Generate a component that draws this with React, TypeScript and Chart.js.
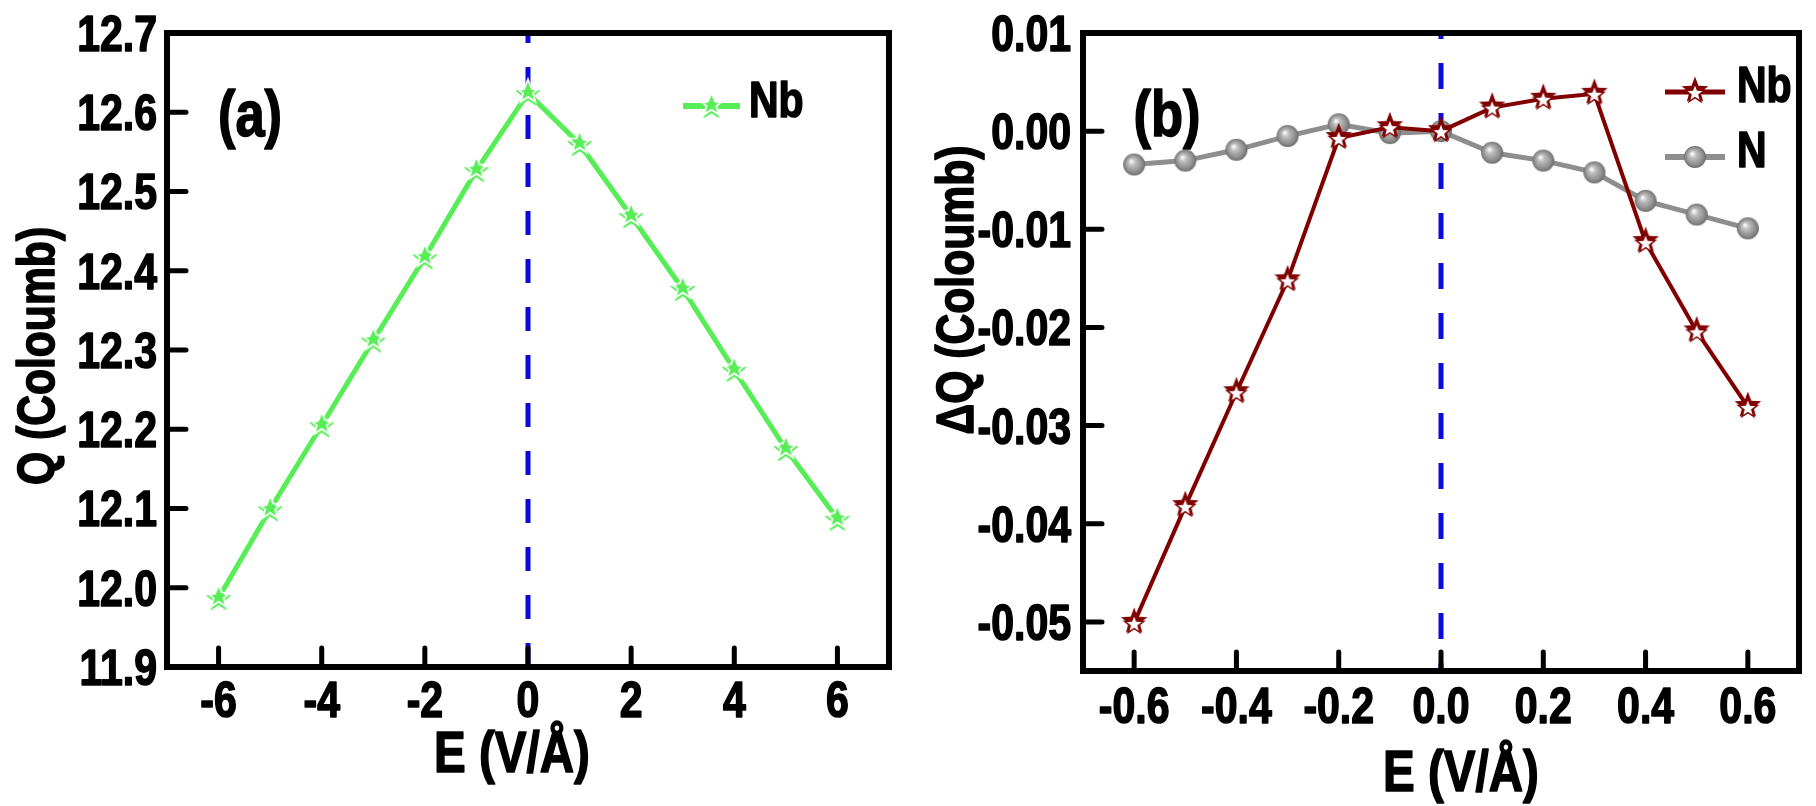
import React, { useEffect, useRef } from 'react';
import { Chart, registerables } from 'chart.js';

Chart.register(...registerables);

// ---------- data ----------
const FIELD_A = [-6, -5, -4, -3, -2, -1, 0, 1, 2, 3, 4, 5, 6];
const Q_NB = [11.987, 12.099, 12.205, 12.312, 12.417, 12.527, 12.624, 12.56, 12.469, 12.377, 12.275, 12.175, 12.087];

const FIELD_B = [-0.6, -0.5, -0.4, -0.3, -0.2, -0.1, 0, 0.1, 0.2, 0.3, 0.4, 0.5, 0.6];
const DQ_NB = [-0.0501, -0.0382, -0.0266, -0.0152, -0.0007, 0.0004, 0.0, 0.0024, 0.0033, 0.0038, -0.0113, -0.0204, -0.0281];
const DQ_N = [-0.0034, -0.003, -0.0019, -0.0005, 0.0007, -0.0002, 0.0, -0.0022, -0.003, -0.0042, -0.0071, -0.0085, -0.0099];

const X_TICKS_A = [-6, -4, -2, 0, 2, 4, 6];
const Y_TICKS_A = [11.9, 12.0, 12.1, 12.2, 12.3, 12.4, 12.5, 12.6, 12.7];
const X_TICKS_B = [-0.6, -0.4, -0.2, 0, 0.2, 0.4, 0.6];
const Y_TICKS_B = [-0.05, -0.04, -0.03, -0.02, -0.01, 0, 0.01];

const ZERO_FIELD = 0;

// ---------- styles ----------
const FONT = "'Liberation Sans', Arial, sans-serif";
const NARROW = 0.82; // horizontal compression -> Arial Narrow look
const GREEN = '#55ee55';
const DARKRED = '#800000';
const GRAY = '#8e8e8e';
const BLUE = '#0a0ae0';

function starPath(g: CanvasRenderingContext2D, cx: number, cy: number, R: number, r: number) {
  g.beginPath();
  for (let i = 0; i < 10; i++) {
    const rad = i % 2 === 0 ? R : r;
    const a = -Math.PI / 2 + (i * Math.PI) / 5;
    const x = cx + rad * Math.cos(a);
    const y = cy + rad * Math.sin(a);
    if (i === 0) g.moveTo(x, y);
    else g.lineTo(x, y);
  }
  g.closePath();
}

function makeStarLight(color: string) {
  const c = document.createElement('canvas');
  c.width = 34;
  c.height = 34;
  const g = c.getContext('2d')!;
  starPath(g, 17, 18.5, 13.5, 5.8);
  g.fillStyle = color;
  g.fill();
  starPath(g, 17, 15.5, 12.5, 5.2);
  g.strokeStyle = '#ffffff';
  g.lineWidth = 1.8;
  g.stroke();
  return c;
}

function makeStarDark(color: string) {
  const c = document.createElement('canvas');
  c.width = 34;
  c.height = 34;
  const g = c.getContext('2d')!;
  starPath(g, 17, 15.5, 14, 5.9);
  g.fillStyle = color;
  g.fill();
  starPath(g, 17, 18.5, 10, 4.2);
  g.fillStyle = '#ffffff';
  g.fill();
  g.strokeStyle = color;
  g.lineWidth = 1.5;
  g.stroke();
  return c;
}

function makeSphere() {
  const c = document.createElement('canvas');
  c.width = 26;
  c.height = 26;
  const g = c.getContext('2d')!;
  const grad = g.createRadialGradient(10, 9.5, 0.5, 13, 13, 11);
  grad.addColorStop(0, '#fafafa');
  grad.addColorStop(0.3, '#bdbdbd');
  grad.addColorStop(0.8, '#8a8a8a');
  grad.addColorStop(1, '#6a6a6a');
  g.beginPath();
  g.arc(13, 13, 11, 0, Math.PI * 2);
  g.fillStyle = grad;
  g.fill();
  return c;
}

function narrowText(
  ctx: CanvasRenderingContext2D,
  text: string,
  x: number,
  y: number,
  size: number,
  align: CanvasTextAlign,
  rot = 0
) {
  ctx.save();
  ctx.font = `bold ${size}px ${FONT}`;
  ctx.fillStyle = '#000';
  ctx.strokeStyle = '#000';
  ctx.lineWidth = 1.6;
  ctx.lineJoin = 'round';
  ctx.textAlign = align;
  ctx.textBaseline = 'alphabetic';
  ctx.translate(x, y);
  if (rot) ctx.rotate(rot);
  ctx.scale(NARROW, 1);
  ctx.fillText(text, 0, 0);
  ctx.strokeText(text, 0, 0);
  ctx.restore();
}

const decorPlugin = {
  id: 'decor',
  beforeDatasetsDraw(chart: any, _args: any, o: any) {
    const { ctx, chartArea: a, scales } = chart;
    const px = scales.x.getPixelForValue(o.zero);
    ctx.save();
    ctx.strokeStyle = o.zeroColor;
    ctx.lineWidth = o.zeroWidth;
    ctx.setLineDash(o.zeroDash);
    ctx.lineDashOffset = o.zeroDashOffset;
    ctx.beginPath();
    ctx.moveTo(px, a.top);
    ctx.lineTo(px, a.bottom);
    ctx.stroke();
    ctx.restore();
  },
  afterDatasetsDraw(chart: any, _args: any, o: any) {
    const { ctx, chartArea: a, scales } = chart;
    ctx.save();
    // frame
    ctx.strokeStyle = '#000';
    ctx.lineWidth = o.frameWidth;
    ctx.lineJoin = 'miter';
    ctx.strokeRect(a.left, a.top, a.right - a.left, a.bottom - a.top);
    // inner ticks
    ctx.lineWidth = o.tickWidth;
    ctx.lineCap = 'round';
    ctx.beginPath();
    for (const t of scales.x.ticks) {
      const px = scales.x.getPixelForValue(t.value);
      ctx.moveTo(px, a.bottom);
      ctx.lineTo(px, a.bottom - o.tickLen);
    }
    for (const t of scales.y.ticks) {
      const py = scales.y.getPixelForValue(t.value);
      if (Math.abs(py - a.top) < 2 || Math.abs(py - a.bottom) < 2) continue;
      ctx.moveTo(a.left, py);
      ctx.lineTo(a.left + o.tickLen, py);
    }
    ctx.stroke();
    ctx.restore();

    // tick labels (from the library's scales)
    const xFmt = scales.x.options.ticks.callback;
    const yFmt = scales.y.options.ticks.callback;
    for (const t of scales.x.ticks) {
      const px = scales.x.getPixelForValue(t.value);
      narrowText(ctx, String(xFmt(t.value)), px, a.bottom + o.xLabelDy, o.tickSize, 'center');
    }
    for (const t of scales.y.ticks) {
      const py = scales.y.getPixelForValue(t.value);
      narrowText(ctx, String(yFmt(t.value)), a.left - o.yLabelGap, py + o.tickSize * 0.358, o.tickSize, 'right');
    }

    // panel label
    narrowText(ctx, o.label.text, o.label.x, o.label.y, o.label.size, 'center');
    // x title
    narrowText(ctx, o.xTitle.text, (a.left + a.right) / 2 + o.xTitle.dx, a.bottom + o.xTitle.dy, o.xTitle.size, 'center');
    // y title
    narrowText(ctx, o.yTitle.text, o.yTitle.x, o.yTitle.cy, o.yTitle.size, 'center', -Math.PI / 2);

    // legend
    const L = o.legend;
    chart.data.datasets.forEach((ds: any, i: number) => {
      const y = L.y + i * L.rowGap;
      ctx.save();
      ctx.strokeStyle = ds.borderColor;
      ctx.lineWidth = ds.borderWidth + 1;
      ctx.beginPath();
      ctx.moveTo(L.x, y);
      ctx.lineTo(L.x + L.lineLen, y);
      ctx.stroke();
      const img = ds.pointStyle as HTMLCanvasElement;
      ctx.drawImage(img, L.x + L.lineLen / 2 - img.width / 2, y - img.height / 2);
      ctx.restore();
      narrowText(ctx, ds.label, L.x + L.lineLen + L.gap, y + L.dy, L.size, 'left');
    });
  },
};

function buildA(): any {
  return {
    type: 'line',
    data: {
      datasets: [
        {
          label: 'Nb',
          data: FIELD_A.map((x, i) => ({ x, y: Q_NB[i] })),
          borderColor: GREEN,
          backgroundColor: GREEN,
          borderWidth: 5,
          pointStyle: makeStarLight(GREEN),
          pointRadius: 13,
          tension: 0,
          clip: false,
        },
      ],
    },
    options: {
      responsive: false,
      animation: false,
      devicePixelRatio: 1,
      layout: { padding: { top: 33, right: 19, left: 0, bottom: 0 } },
      plugins: {
        legend: { display: false },
        tooltip: { enabled: false },
        decor: {
          zero: ZERO_FIELD,
          zeroColor: BLUE,
          zeroWidth: 5,
          zeroDash: [24, 24],
          zeroDashOffset: 14,
          frameWidth: 6,
          tickLen: 19,
          tickWidth: 5,
          tickSize: 50,
          xLabelDy: 50,
          yLabelGap: 10,
          label: { text: '(a)', x: 250, y: 136, size: 64 },
          xTitle: { text: 'E (V/Å)', dx: -16, dy: 105, size: 58 },
          yTitle: { text: 'Q (Coloumb)', x: 54, cy: 356, size: 52 },
          legend: { x: 683, y: 106, lineLen: 57, gap: 9, rowGap: 65, dy: 11, size: 50 },
        },
      },
      scales: {
        x: {
          type: 'linear',
          min: -7,
          max: 7,
          afterBuildTicks: (s: any) => {
            s.ticks = X_TICKS_A.map((v) => ({ value: v }));
          },
          afterFit: (s: any) => {
            s.height = 139;
          },
          grid: { display: false },
          border: { display: false },
          ticks: { display: false, callback: (v: any) => String(v) },
        },
        y: {
          type: 'linear',
          min: 11.9,
          max: 12.7,
          afterBuildTicks: (s: any) => {
            s.ticks = Y_TICKS_A.map((v) => ({ value: v }));
          },
          afterFit: (s: any) => {
            s.width = 167;
          },
          grid: { display: false },
          border: { display: false },
          ticks: { display: false, callback: (v: any) => Number(v).toFixed(1) },
        },
      },
    },
    plugins: [decorPlugin],
  };
}

function buildB(): any {
  return {
    type: 'line',
    data: {
      datasets: [
        {
          label: 'Nb',
          data: FIELD_B.map((x, i) => ({ x, y: DQ_NB[i] })),
          borderColor: DARKRED,
          backgroundColor: DARKRED,
          borderWidth: 4,
          pointStyle: makeStarDark(DARKRED),
          pointRadius: 13,
          tension: 0,
          clip: false,
        },
        {
          label: 'N',
          data: FIELD_B.map((x, i) => ({ x, y: DQ_N[i] })),
          borderColor: GRAY,
          backgroundColor: GRAY,
          borderWidth: 5,
          pointStyle: makeSphere(),
          pointRadius: 11,
          tension: 0,
          clip: false,
        },
      ],
    },
    options: {
      responsive: false,
      animation: false,
      devicePixelRatio: 1,
      layout: { padding: { top: 33, right: 6, left: 0, bottom: 0 } },
      plugins: {
        legend: { display: false },
        tooltip: { enabled: false },
        decor: {
          zero: ZERO_FIELD,
          zeroColor: BLUE,
          zeroWidth: 5,
          zeroDash: [26, 24],
          zeroDashOffset: 20,
          frameWidth: 6,
          tickLen: 19,
          tickWidth: 5,
          tickSize: 50,
          xLabelDy: 52,
          yLabelGap: 12,
          label: { text: '(b)', x: 259, y: 136, size: 64 },
          xTitle: { text: 'E (V/Å)', dx: 20, dy: 120, size: 58 },
          yTitle: { text: 'ΔQ (Coloumb)', x: 65, cy: 290, size: 52 },
          legend: { x: 757, y: 92, lineLen: 60, gap: 12, rowGap: 65, dy: 10, size: 50 },
        },
      },
      scales: {
        x: {
          type: 'linear',
          min: -0.7,
          max: 0.7,
          afterBuildTicks: (s: any) => {
            s.ticks = X_TICKS_B.map((v) => ({ value: v }));
          },
          afterFit: (s: any) => {
            s.height = 135;
          },
          grid: { display: false },
          border: { display: false },
          ticks: { display: false, callback: (v: any) => Number(v).toFixed(1) },
        },
        y: {
          type: 'linear',
          min: -0.055,
          max: 0.01,
          afterBuildTicks: (s: any) => {
            s.ticks = Y_TICKS_B.map((v) => ({ value: v }));
          },
          afterFit: (s: any) => {
            s.width = 175;
          },
          grid: { display: false },
          border: { display: false },
          ticks: {
            display: false,
            callback: (v: any) => {
              const n = Number(v);
              return Math.abs(n) < 1e-9 ? '0.00' : n.toFixed(2);
            },
          },
        },
      },
    },
    plugins: [decorPlugin],
  };
}

function Panel({ build }: { build: () => any }) {
  const ref = useRef<HTMLCanvasElement>(null);
  useEffect(() => {
    const chart = new Chart(ref.current!, build());
    return () => chart.destroy();
  }, [build]);
  return <canvas ref={ref} width={908} height={806} style={{ display: 'block', width: 908, height: 806 }} />;
}

export default function App() {
  return (
    <div style={{ position: 'absolute', left: 0, top: 0, width: 1816, height: 806, display: 'flex', background: '#ffffff' }}>
      <Panel build={buildA} />
      <Panel build={buildB} />
    </div>
  );
}
